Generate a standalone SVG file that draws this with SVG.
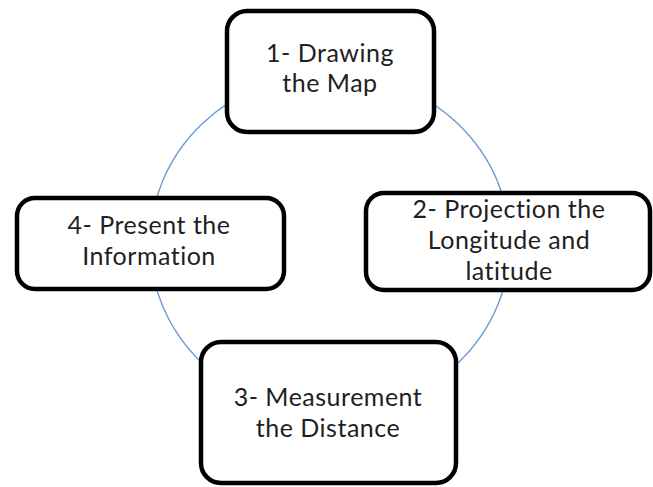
<svg xmlns="http://www.w3.org/2000/svg" width="653" height="487" viewBox="0 0 653 487">
<style>
.box{fill:#ffffff;stroke:#000000;stroke-width:4.5}
.lbl{font-family:Lato,"Open Sans","Liberation Sans",sans-serif;font-size:25px;letter-spacing:0.5px;font-variant-ligatures:none;fill:#1e1e24;text-anchor:middle}
.ring{fill:none;stroke:#6a9bd3;stroke-width:1.4}
</style>
<rect width="653" height="487" fill="#ffffff"/>
<g id="connectors">
<ellipse class="ring" cx="330" cy="243.5" rx="180" ry="170"/>
</g>
<g id="node1">
<rect class="box" x="227" y="11" width="207" height="121" rx="20"/>
<text class="lbl" x="330" y="62">1- Drawing</text>
<text class="lbl" x="330" y="92">the Map</text>
</g>
<g id="node2">
<rect class="box" x="366" y="193" width="284" height="97" rx="18"/>
<text class="lbl" x="509" y="218">2- Projection the</text>
<text class="lbl" x="509" y="249">Longitude and</text>
<text class="lbl" x="509" y="280">latitude</text>
</g>
<g id="node3">
<rect class="box" x="201" y="342" width="255" height="141" rx="20"/>
<text class="lbl" x="328" y="406">3- Measurement</text>
<text class="lbl" x="328" y="437">the Distance</text>
</g>
<g id="node4">
<rect class="box" x="17" y="198" width="267" height="91" rx="18"/>
<text class="lbl" x="149" y="234">4- Present the</text>
<text class="lbl" x="149" y="265">Information</text>
</g>
</svg>
